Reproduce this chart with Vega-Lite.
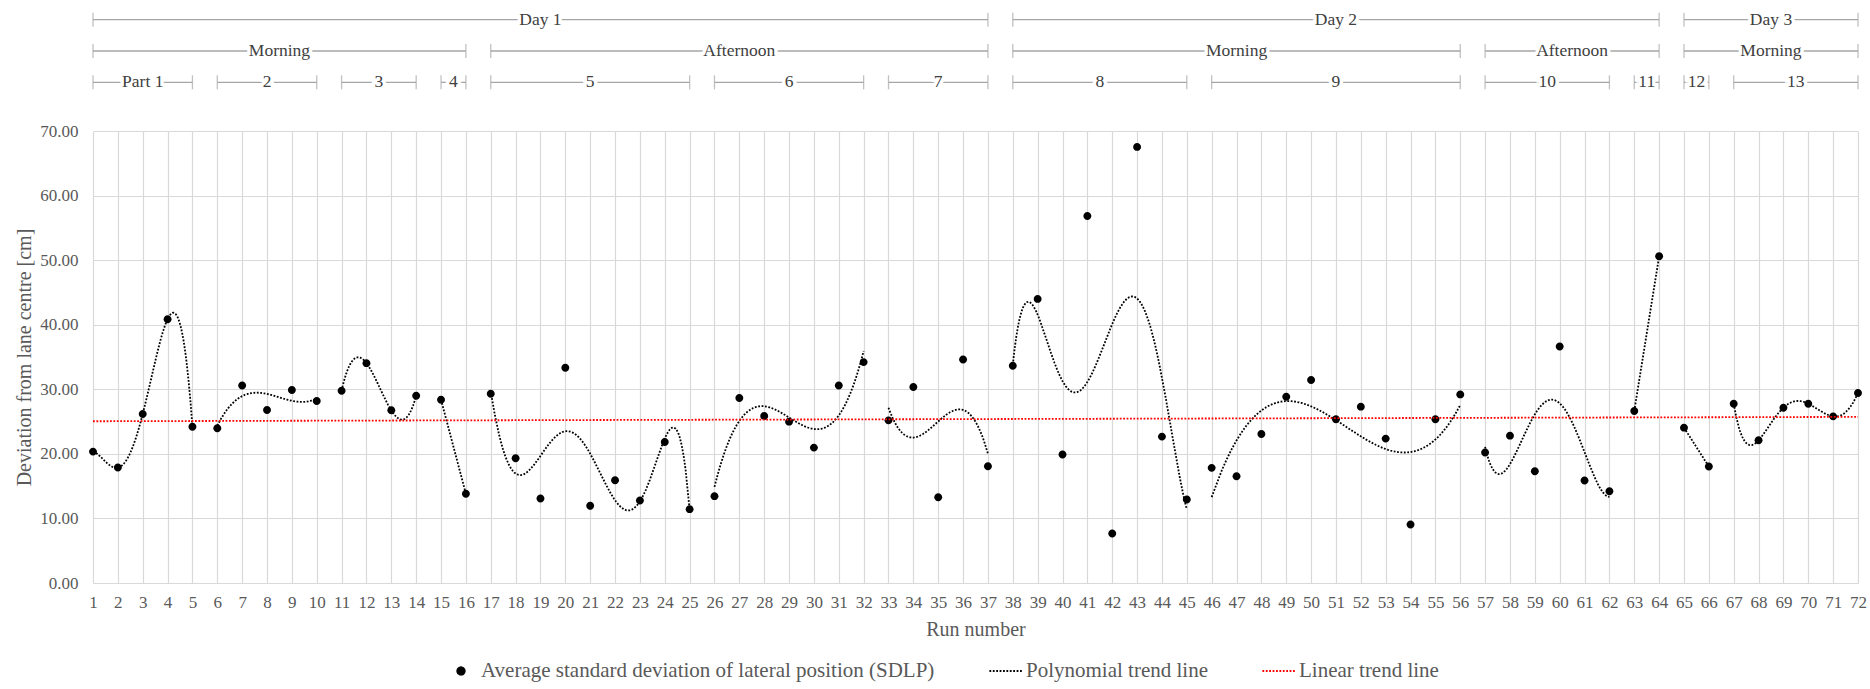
{
  "$schema": "https://vega.github.io/schema/vega-lite/v6.json",
  "padding": {"left": 14, "top": 4, "right": 10, "bottom": 4},
  "background": "white",
  "config": {
    "font": "Liberation Serif",
    "view": {"stroke": null},
    "concat": {"spacing": 24},
    "axis": {
      "domain": false,
      "ticks": false,
      "gridColor": "#d9d9d9",
      "gridWidth": 1.2,
      "labelColor": "#595959",
      "titleColor": "#595959",
      "labelFontSize": 17,
      "titleFontSize": 20,
      "titleFontWeight": "normal"
    },
    "axisX": {"labelOverlap": false, "labelBound": false},
    "legend": {
      "orient": "none",
      "legendX": 350,
      "legendY": 649,
      "direction": "horizontal",
      "title": null,
      "labelFontSize": 21,
      "labelColor": "#595959",
      "labelLimit": 0,
      "symbolSize": 1100,
      "symbolStrokeWidth": 2,
      "columnPadding": 50,
      "labelOffset": 2
    }
  },
  "datasets": {
    "runs": [
      {"run": 1, "sdlp": 20.35, "part": 1},
      {"run": 2, "sdlp": 17.88, "part": 1},
      {"run": 3, "sdlp": 26.17, "part": 1},
      {"run": 4, "sdlp": 40.86, "part": 1},
      {"run": 5, "sdlp": 24.21, "part": 1},
      {"run": 6, "sdlp": 23.96, "part": 2},
      {"run": 7, "sdlp": 30.6, "part": 2},
      {"run": 8, "sdlp": 26.79, "part": 2},
      {"run": 9, "sdlp": 29.88, "part": 2},
      {"run": 10, "sdlp": 28.18, "part": 2},
      {"run": 11, "sdlp": 29.78, "part": 3},
      {"run": 12, "sdlp": 34.05, "part": 3},
      {"run": 13, "sdlp": 26.74, "part": 3},
      {"run": 14, "sdlp": 29.0, "part": 3},
      {"run": 15, "sdlp": 28.39, "part": 4},
      {"run": 16, "sdlp": 13.81, "part": 4},
      {"run": 17, "sdlp": 29.31, "part": 5},
      {"run": 18, "sdlp": 19.32, "part": 5},
      {"run": 19, "sdlp": 13.09, "part": 5},
      {"run": 20, "sdlp": 33.33, "part": 5},
      {"run": 21, "sdlp": 11.95, "part": 5},
      {"run": 22, "sdlp": 15.92, "part": 5},
      {"run": 23, "sdlp": 12.78, "part": 5},
      {"run": 24, "sdlp": 21.84, "part": 5},
      {"run": 25, "sdlp": 11.44, "part": 5},
      {"run": 26, "sdlp": 13.45, "part": 6},
      {"run": 27, "sdlp": 28.64, "part": 6},
      {"run": 28, "sdlp": 25.86, "part": 6},
      {"run": 29, "sdlp": 24.99, "part": 6},
      {"run": 30, "sdlp": 20.97, "part": 6},
      {"run": 31, "sdlp": 30.6, "part": 6},
      {"run": 32, "sdlp": 34.21, "part": 6},
      {"run": 33, "sdlp": 25.19, "part": 7},
      {"run": 34, "sdlp": 30.35, "part": 7},
      {"run": 35, "sdlp": 13.29, "part": 7},
      {"run": 36, "sdlp": 34.62, "part": 7},
      {"run": 37, "sdlp": 18.08, "part": 7},
      {"run": 38, "sdlp": 33.64, "part": 8},
      {"run": 39, "sdlp": 44.0, "part": 8},
      {"run": 40, "sdlp": 19.89, "part": 8},
      {"run": 41, "sdlp": 56.83, "part": 8},
      {"run": 42, "sdlp": 7.68, "part": 8},
      {"run": 43, "sdlp": 67.54, "part": 8},
      {"run": 44, "sdlp": 22.67, "part": 8},
      {"run": 45, "sdlp": 12.93, "part": 8},
      {"run": 46, "sdlp": 17.83, "part": 9},
      {"run": 47, "sdlp": 16.54, "part": 9},
      {"run": 48, "sdlp": 23.08, "part": 9},
      {"run": 49, "sdlp": 28.85, "part": 9},
      {"run": 50, "sdlp": 31.43, "part": 9},
      {"run": 51, "sdlp": 25.35, "part": 9},
      {"run": 52, "sdlp": 27.31, "part": 9},
      {"run": 53, "sdlp": 22.36, "part": 9},
      {"run": 54, "sdlp": 9.07, "part": 9},
      {"run": 55, "sdlp": 25.35, "part": 9},
      {"run": 56, "sdlp": 29.21, "part": 9},
      {"run": 57, "sdlp": 20.2, "part": 10},
      {"run": 58, "sdlp": 22.82, "part": 10},
      {"run": 59, "sdlp": 17.31, "part": 10},
      {"run": 60, "sdlp": 36.63, "part": 10},
      {"run": 61, "sdlp": 15.87, "part": 10},
      {"run": 62, "sdlp": 14.22, "part": 10},
      {"run": 63, "sdlp": 26.64, "part": 11},
      {"run": 64, "sdlp": 50.59, "part": 11},
      {"run": 65, "sdlp": 24.06, "part": 12},
      {"run": 66, "sdlp": 18.03, "part": 12},
      {"run": 67, "sdlp": 27.77, "part": 13},
      {"run": 68, "sdlp": 22.1, "part": 13},
      {"run": 69, "sdlp": 27.15, "part": 13},
      {"run": 70, "sdlp": 27.77, "part": 13},
      {"run": 71, "sdlp": 25.81, "part": 13},
      {"run": 72, "sdlp": 29.42, "part": 13}
    ],
    "groups": [
      {"level": "day", "label": "Day 1", "start": 1, "end": 37},
      {"level": "day", "label": "Day 2", "start": 38, "end": 64},
      {"level": "day", "label": "Day 3", "start": 65, "end": 72},
      {"level": "session", "label": "Morning", "start": 1, "end": 16},
      {"level": "session", "label": "Afternoon", "start": 17, "end": 37},
      {"level": "session", "label": "Morning", "start": 38, "end": 56},
      {"level": "session", "label": "Afternoon", "start": 57, "end": 64},
      {"level": "session", "label": "Morning", "start": 65, "end": 72},
      {"level": "part", "label": "Part 1", "start": 1, "end": 5},
      {"level": "part", "label": "2", "start": 6, "end": 10},
      {"level": "part", "label": "3", "start": 11, "end": 14},
      {"level": "part", "label": "4", "start": 15, "end": 16},
      {"level": "part", "label": "5", "start": 17, "end": 25},
      {"level": "part", "label": "6", "start": 26, "end": 32},
      {"level": "part", "label": "7", "start": 33, "end": 37},
      {"level": "part", "label": "8", "start": 38, "end": 45},
      {"level": "part", "label": "9", "start": 46, "end": 56},
      {"level": "part", "label": "10", "start": 57, "end": 62},
      {"level": "part", "label": "11", "start": 63, "end": 64},
      {"level": "part", "label": "12", "start": 65, "end": 66},
      {"level": "part", "label": "13", "start": 67, "end": 72}
    ]
  },
  "vconcat": [
    {
      "name": "header",
      "width": 1765,
      "height": 94,
      "data": {"name": "groups"},
      "encoding": {
        "y": {"field": "level", "type": "ordinal", "scale": {"type": "point", "domain": ["day", "session", "part"], "padding": 0.5}, "axis": null}
      },
      "layer": [
        {
          "mark": {"type": "rule", "color": "#a6a6a6", "strokeWidth": 1.3},
          "encoding": {
            "x": {"field": "start", "type": "quantitative", "scale": {"domain": [1, 72], "nice": false, "zero": false}, "axis": null},
            "x2": {"field": "end"}
          }
        },
        {
          "transform": [{"fold": ["start", "end"], "as": ["edge", "run"]}],
          "mark": {"type": "tick", "color": "#a6a6a6", "thickness": 1.3, "size": 14},
          "encoding": {
            "x": {"field": "run", "type": "quantitative", "scale": {"domain": [1, 72], "nice": false, "zero": false}, "axis": null}
          }
        },
        {
          "transform": [{"fold": ["start", "end"], "as": ["edge", "run"]}],
          "mark": {"type": "text", "fontSize": 17.5, "stroke": "white", "strokeWidth": 7, "fill": "white"},
          "encoding": {
            "x": {"aggregate": "mean", "field": "run", "type": "quantitative", "scale": {"domain": [1, 72], "nice": false, "zero": false}, "axis": null},
            "detail": {"field": "start", "type": "quantitative"},
            "text": {"field": "label"}
          }
        },
        {
          "transform": [{"fold": ["start", "end"], "as": ["edge", "run"]}],
          "mark": {"type": "text", "fontSize": 17.5, "fill": "#404040"},
          "encoding": {
            "x": {"aggregate": "mean", "field": "run", "type": "quantitative", "scale": {"domain": [1, 72], "nice": false, "zero": false}, "axis": null},
            "detail": {"field": "start", "type": "quantitative"},
            "text": {"field": "label"}
          }
        }
      ]
    },
    {
      "name": "main",
      "width": 1765,
      "height": 452,
      "data": {"name": "runs"},
      "layer": [
        {
          "mark": {"type": "point", "filled": true, "opacity": 1, "size": 1300},
          "encoding": {
            "x": {
              "field": "run", "type": "quantitative",
              "scale": {"domain": [1, 72], "nice": false, "zero": false},
              "axis": {
                "title": "Run number",
                "values": [1,2,3,4,5,6,7,8,9,10,11,12,13,14,15,16,17,18,19,20,21,22,23,24,25,26,27,28,29,30,31,32,33,34,35,36,37,38,39,40,41,42,43,44,45,46,47,48,49,50,51,52,53,54,55,56,57,58,59,60,61,62,63,64,65,66,67,68,69,70,71,72],
                "tickCount": 100,
                "labelOverlap": false,
                "labelPadding": 11,
                "titlePadding": 9,
                "labelFlush": false
              }
            },
            "y": {
              "field": "sdlp", "type": "quantitative",
              "scale": {"domain": [0, 70], "nice": false},
              "axis": {
                "title": "Deviation from lane centre [cm]",
                "values": [0, 10, 20, 30, 40, 50, 60, 70],
                "format": ".2f",
                "labelPadding": 15,
                "titlePadding": 5
              }
            },
            "color": {
              "datum": "Average standard deviation of lateral position (SDLP)",
              "scale": {
                "domain": ["Average standard deviation of lateral position (SDLP)", "Polynomial trend line", "Linear trend line"],
                "range": ["#000000", "#000000", "#ff0000"]
              }
            },
            "shape": {
              "datum": "Average standard deviation of lateral position (SDLP)",
              "scale": {
                "domain": ["Average standard deviation of lateral position (SDLP)", "Polynomial trend line", "Linear trend line"],
                "range": ["M0.22,0A0.22,0.22 0 1,1 -0.22,0A0.22,0.22 0 1,1 0.22,0Z", "stroke", "stroke"]
              }
            }
          }
        },
        {
          "transform": [
            {"filter": {"field": "part", "oneOf": [1, 10]}},
            {"regression": "sdlp", "on": "run", "groupby": ["part"], "method": "poly", "order": 4}
          ],
          "mark": {"type": "line", "strokeWidth": 1.8},
          "encoding": {
            "x": {"field": "run", "type": "quantitative"},
            "y": {"field": "sdlp", "type": "quantitative"},
            "detail": {"field": "part", "type": "nominal"},
            "color": {"datum": "Polynomial trend line"},
            "strokeDash": {
              "datum": "Polynomial trend line",
              "scale": {
                "domain": ["Average standard deviation of lateral position (SDLP)", "Polynomial trend line", "Linear trend line"],
                "range": [[1, 0], [1.8, 1.6], [1.8, 1.6]]
              }
            }
          }
        },
        {
          "transform": [
            {"filter": {"field": "part", "oneOf": [2, 3, 6, 7, 9]}},
            {"regression": "sdlp", "on": "run", "groupby": ["part"], "method": "poly", "order": 3}
          ],
          "mark": {"type": "line", "strokeWidth": 1.8},
          "encoding": {
            "x": {"field": "run", "type": "quantitative"},
            "y": {"field": "sdlp", "type": "quantitative"},
            "detail": {"field": "part", "type": "nominal"},
            "color": {"datum": "Polynomial trend line"},
            "strokeDash": {"datum": "Polynomial trend line"}
          }
        },
        {
          "transform": [
            {"filter": {"field": "part", "oneOf": [5]}},
            {"regression": "sdlp", "on": "run", "groupby": ["part"], "method": "poly", "order": 6}
          ],
          "mark": {"type": "line", "strokeWidth": 1.8},
          "encoding": {
            "x": {"field": "run", "type": "quantitative"},
            "y": {"field": "sdlp", "type": "quantitative"},
            "detail": {"field": "part", "type": "nominal"},
            "color": {"datum": "Polynomial trend line"},
            "strokeDash": {"datum": "Polynomial trend line"}
          }
        },
        {
          "transform": [
            {"filter": {"field": "part", "oneOf": [8, 13]}},
            {"regression": "sdlp", "on": "run", "groupby": ["part"], "method": "poly", "order": 5}
          ],
          "mark": {"type": "line", "strokeWidth": 1.8},
          "encoding": {
            "x": {"field": "run", "type": "quantitative"},
            "y": {"field": "sdlp", "type": "quantitative"},
            "detail": {"field": "part", "type": "nominal"},
            "color": {"datum": "Polynomial trend line"},
            "strokeDash": {"datum": "Polynomial trend line"}
          }
        },
        {
          "transform": [
            {"filter": {"field": "part", "oneOf": [4, 11, 12]}},
            {"regression": "sdlp", "on": "run", "groupby": ["part"], "method": "linear"}
          ],
          "mark": {"type": "line", "strokeWidth": 1.8},
          "encoding": {
            "x": {"field": "run", "type": "quantitative"},
            "y": {"field": "sdlp", "type": "quantitative"},
            "detail": {"field": "part", "type": "nominal"},
            "color": {"datum": "Polynomial trend line"},
            "strokeDash": {"datum": "Polynomial trend line"}
          }
        },
        {
          "transform": [
            {"regression": "sdlp", "on": "run", "method": "linear"}
          ],
          "mark": {"type": "line", "strokeWidth": 1.8},
          "encoding": {
            "x": {"field": "run", "type": "quantitative"},
            "y": {"field": "sdlp", "type": "quantitative"},
            "color": {"datum": "Linear trend line"},
            "strokeDash": {"datum": "Linear trend line"}
          }
        }
      ]
    }
  ]
}
